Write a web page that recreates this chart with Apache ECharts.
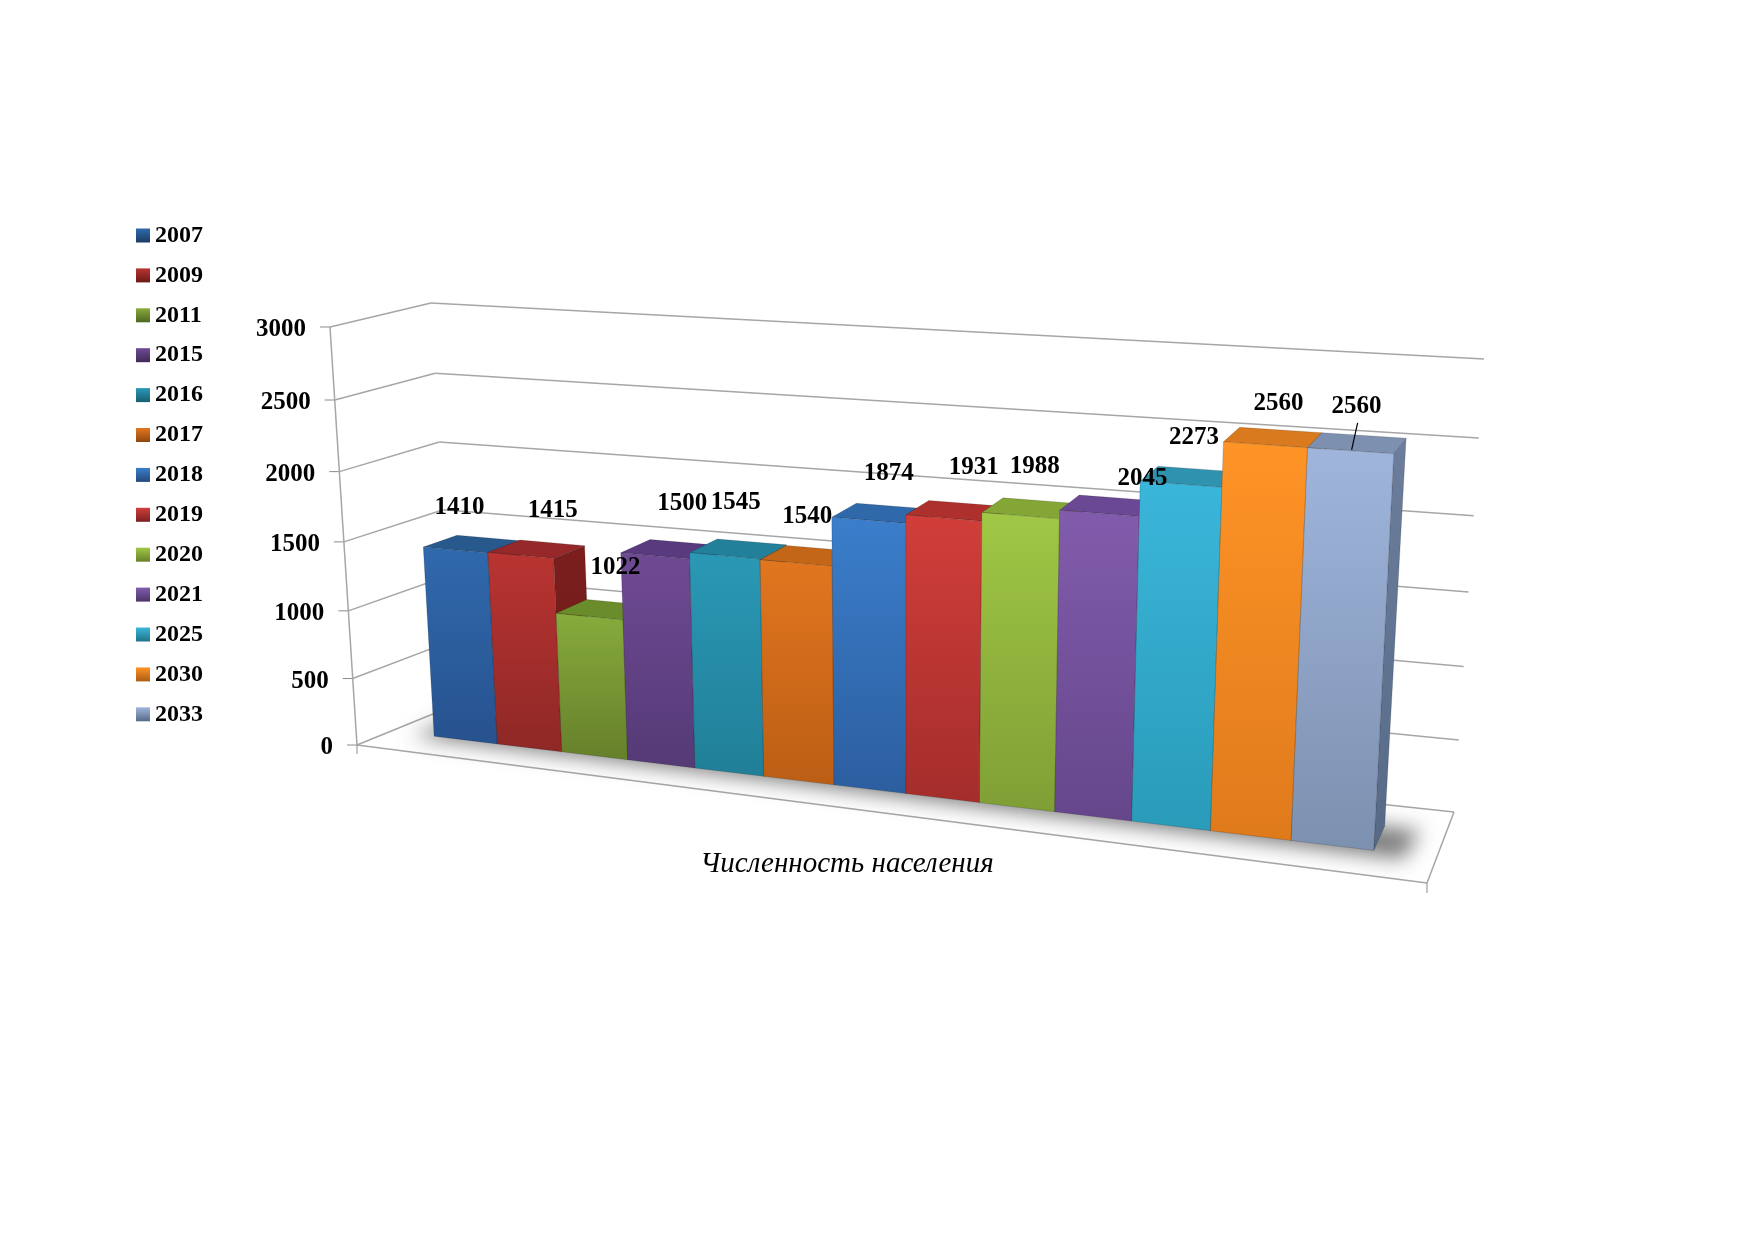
<!DOCTYPE html>
<html><head><meta charset="utf-8">
<style>html,body{margin:0;padding:0;background:#fff}#c{width:1752px;height:1239px}</style>
<script src="https://cdn.jsdelivr.net/npm/echarts@6/dist/echarts.min.js"></script>
</head><body><div id="c"></div>
<script>
const years = ['2007','2009','2011','2015','2016','2017','2018','2019','2020','2021','2025','2030','2033'];
const population = [1410,1415,1022,1500,1545,1540,1874,1931,1988,2045,2273,2560,2560];
const yTicks = [0,500,1000,1500,2000,2500,3000];
const axisTitle = 'Численность населения';

// front top, front bottom, side top, side bottom, roof
const palette = [
 ['#3069ad','#27528e','#1f4673','#1a3c64','#28598c'],
 ['#b93431','#8e2826','#7c1f1d','#6a1a18','#96282a'],
 ['#87ab3c','#66802b','#5f7a26','#4f6620','#6b8c2a'],
 ['#6f4a94','#553a76','#4c3269','#3f2a58','#5a3a7e'],
 ['#2a98b5','#217f98','#1b6f85','#175e71','#23809a'],
 ['#e2761f','#bb5e14','#a85512','#8f470f','#c46618'],
 ['#3b7ecb','#2c5e9f','#28568e','#224a7b','#2f69a9'],
 ['#d13e3a','#a42d2b','#8f2725','#7a211f','#ae302d'],
 ['#a0c745','#7f9f35','#7a9a30','#678228','#84a637'],
 ['#815cac','#65468b','#583d7a','#4b3468','#6a4893'],
 ['#3ab6da','#2a9bb9','#26869f','#20738a','#2f92ae'],
 ['#ff9426','#df7a1c','#c76c18','#ab5c14','#d97a1f'],
 ['#9fb5dc','#7c90af','#6c7e9c','#566a88','#7e90b0']
];
// label nudges from the centre of each bar's front top edge
const labelDx = [4,32,26,27,11,11,20,30,14,43,13,13,6];
const labelDy = [-43,-45,-49,-52,-53,-46,-47,-50,-49,-35,-47,-41,-44];

// corners of the 3D box on the page
const C = {
  FLB:[357,745], FLT:[330,327], BLB:[455,705], BLT:[431,303],
  FRB:[1427,883], FRT:[1452,400], BRB:[1454,812], BRT:[1484,359]
};
const mix = (a,b,t)=>[a[0]+(b[0]-a[0])*t, a[1]+(b[1]-a[1])*t];
const P = 1.058;
function project(u,d,v){
  const w = v<=0 ? 0 : v/(v+P*(1-v));
  const fb = mix(C.FLB,C.FRB,u), ft = mix(C.FLT,C.FRT,u);
  const bb = mix(C.BLB,C.BRB,u), bt = mix(C.BLT,C.BRT,u);
  return mix(mix(fb,ft,w), mix(bb,bt,w), d);
}
const D0=.35, D1=.70, U0=.041, U1=.94, Q=1.157;
const warp = t => U0 + (U1-U0)*t/(t+Q*(1-t));
const GRID = 1000;
const toUV = (api,x,val)=>{ const p=api.coord([x,val]); return [p[0]/GRID, 1-p[1]/GRID]; };
const serif = '"Liberation Serif","Times New Roman",serif';
const vgrad = (a,b)=>new echarts.graphic.LinearGradient(0,0,0,1,[{offset:0,color:a},{offset:1,color:b}]);
const poly = (pts,fill,extra)=>({type:'polygon',shape:{points:pts},style:Object.assign({fill,stroke:'rgba(0,0,0,.22)',lineWidth:.7},extra||{})});
const line = (a,b,color,w)=>({type:'line',shape:{x1:a[0],y1:a[1],x2:b[0],y2:b[1]},style:{stroke:color,lineWidth:w||1.5}});

function barItem(i){
  return function(params,api){
    const x=api.value(0), val=api.value(1), col=palette[i];
    const a=toUV(api,x,0), b=toUV(api,x+1,val);
    const uL=warp(a[0]), uR=warp(b[0]);
    const fbl=project(uL,D0,0), fbr=project(uR,D0,0), ftl=project(uL,D0,b[1]), ftr=project(uR,D0,b[1]);
    const bbr=project(uR,D1,0), btl=project(uL,D1,b[1]), btr=project(uR,D1,b[1]);
    return {type:'group',children:[
      poly([fbr,bbr,btr,ftr],vgrad(col[2],col[3])),
      poly([ftl,ftr,btr,btl],col[4]),
      poly([fbl,fbr,ftr,ftl],vgrad(col[0],col[1]))
    ]};
  };
}

const barSeries = years.map((y,i)=>({
  name:y,type:'custom',coordinateSystem:'cartesian2d',z:5+i,clip:false,silent:true,
  itemStyle:{color:palette[i][0]},
  data:[[i,population[i]]],
  encode:{x:0,y:1},
  renderItem:barItem(i)
}));

const wallSeries = {
  name:'walls',type:'custom',z:1,silent:true,clip:false,
  data:yTicks.map(t=>[0,t]),encode:{x:0,y:1},
  renderItem(params,api){
    const t=api.value(1), v=toUV(api,0,t)[1];
    const fl=project(0,0,v), bl=project(0,1,v), br=project(1,1,v);
    const grey='#a6a6a6';
    const kids=[line(fl,bl,grey),line(bl,br,grey),line([fl[0]-10,fl[1]],fl,'#8c8c8c',1),
      {type:'text',x:fl[0]-24,y:fl[1]+3,style:{text:String(t),align:'right',verticalAlign:'middle',font:'bold 25px '+serif,fill:'#000'}}];
    if(t===0){
      const fr=project(1,0,0);
      kids.push(line(fl,fr,grey),line(fr,br,grey),line(fl,[fl[0],fl[1]+9],'#8c8c8c',1),line(fr,[fr[0],fr[1]+10],'#8c8c8c',1));
    }
    if(t===3000){ kids.push(line(project(0,0,0),fl,grey)); }
    return {type:'group',children:kids};
  }
};

// soft floor shadow: the shape sits off-canvas so only its blur lands on the floor
const SHADOW_SHIFT = 3000;
const shadowSeries = {
  name:'shadow',type:'custom',z:2,silent:true,clip:false,
  data:[[0,0]],encode:{x:0,y:1},
  renderItem(params,api){
    const pts=[project(.025,D0-.05,0),project(.97,D0-.07,0),project(.975,D1,0),project(.025,D1,0)];
    return {type:'polygon',x:-SHADOW_SHIFT,shape:{points:pts},
      style:{fill:'#888',shadowBlur:20,shadowOffsetX:SHADOW_SHIFT,shadowColor:'rgba(110,110,110,.9)'}};
  }
};

const labelSeries = {
  name:'labels',type:'custom',z:40,silent:true,clip:false,
  data:population.map((p,i)=>[i,p]),encode:{x:0,y:1},
  renderItem(params,api){
    const i=api.value(0), val=api.value(1), j=params.dataIndex;
    const a=toUV(api,i,0), b=toUV(api,i+1,val);
    const top=mix(project(warp(a[0]),D0,b[1]),project(warp(b[0]),D0,b[1]),.5);
    const kids=[{type:'text',x:top[0]+labelDx[j],y:top[1]+labelDy[j],
      style:{text:String(val),align:'center',verticalAlign:'middle',font:'bold 25px '+serif,fill:'#000'}}];
    if(j===years.length-1){
      kids.push(line([top[0]+7,top[1]-28],[top[0]+1,top[1]-1],'#000',1.2));
    }
    return {type:'group',children:kids};
  }
};

const chart = echarts.init(document.getElementById('c'),null,{renderer:'canvas'});
chart.setOption({
  animation:false,
  backgroundColor:'#fff',
  title:{text:axisTitle,left:842,top:845,textAlign:'center',
    textStyle:{fontStyle:'italic',fontWeight:'normal',fontFamily:serif,fontSize:29,color:'#000'}},
  legend:{orient:'vertical',left:131,top:218.5,itemWidth:14,itemHeight:14,itemGap:15.9,
    icon:'rect',selectedMode:false,
    textStyle:{fontFamily:serif,fontWeight:'bold',fontSize:24,color:'#000',lineHeight:24},
    data:years.map((y,i)=>({name:y,itemStyle:{color:vgrad(palette[i][0],palette[i][3])}}))},
  grid:{left:0,top:0,width:GRID,height:GRID},
  xAxis:{type:'value',min:0,max:years.length,show:false},
  yAxis:{type:'value',min:0,max:3000,interval:500,show:false},
  series:[wallSeries,shadowSeries].concat(barSeries,[labelSeries])
});
</script></body></html>
